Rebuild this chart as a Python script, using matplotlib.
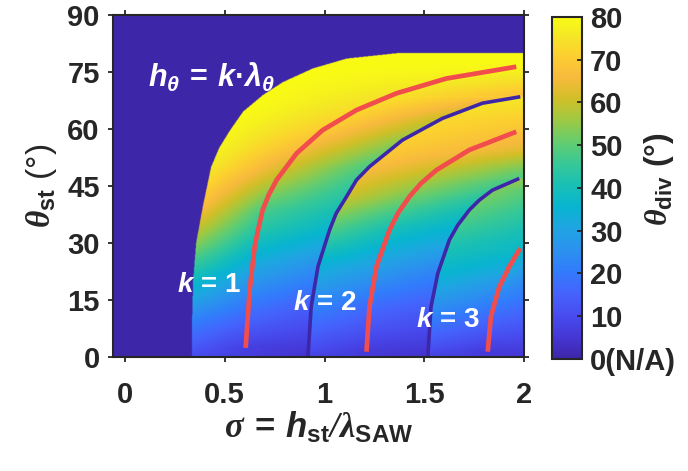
import numpy as np
import matplotlib
matplotlib.use('Agg')
import matplotlib.pyplot as plt
from matplotlib.colors import LinearSegmentedColormap, Normalize
import matplotlib.cm as cm

# left edge of the coloured region: sigma for each theta_st, and theta_div on it
bound_theta = [0, 10, 20, 30, 40, 50, 55, 59.7, 64.6, 69, 72.4, 76, 78.6, 80]
bound_sigma = [0.335, 0.335, 0.34, 0.355, 0.39, 0.43, 0.47, 0.525, 0.59, 0.69, 0.79, 0.94, 1.11, 1.36]
bound_div = [10, 22, 38, 54, 67, 76, 78, 79, 80, 80, 80, 80, 80, 80]

# red curves h_theta = k * lambda_theta (k = 1, 2, 3)
red1_theta = [2.4, 17.6, 29, 33.4, 38.7, 42.6, 46.6, 53.6, 59.7, 65, 69.4, 73.3, 76.4]
red1_sigma = [0.605, 0.625, 0.65, 0.667, 0.69, 0.72, 0.76, 0.86, 0.99, 1.16, 1.36, 1.61, 1.96]
red1_div = [7, 24, 38, 43, 48, 53, 58, 65, 70, 73, 75, 77, 79]

red2_theta = [1.4, 13.2, 23.8, 33.4, 37.8, 42.2, 45.7, 49.2, 54.5, 59.3]
red2_sigma = [1.21, 1.225, 1.26, 1.325, 1.367, 1.425, 1.483, 1.56, 1.725, 1.96]
red2_div = [6, 17, 29, 40, 46, 52, 56, 60, 66, 68]

red3_theta = [1.4, 10.6, 18.5, 23.8, 28.6]
red3_sigma = [1.817, 1.833, 1.875, 1.925, 1.98]
red3_div = [6, 17, 26, 33, 38]

# dark (N/A) seams, theta_div just left and just right of them
dark1_theta = [0, 13.2, 23.8, 33.4, 37.8, 42.2, 46.6, 50.1, 57.1, 62.8, 66.8, 68.5]
dark1_sigma = [0.917, 0.933, 0.967, 1.025, 1.058, 1.11, 1.16, 1.225, 1.39, 1.59, 1.79, 1.98]
dark1_left = [4, 14, 25, 36, 40, 43, 46, 48, 55, 60, 65, 67]
dark1_right = [8, 22, 34, 48, 54, 60, 64, 67, 71, 73, 75, 76]

dark2_theta = [0, 13.2, 22, 30.8, 34.7, 38.7, 41.3, 43.9, 47]
dark2_sigma = [1.517, 1.533, 1.567, 1.625, 1.667, 1.725, 1.775, 1.84, 1.975]
dark2_left = [4, 14, 22, 32, 36, 40, 43, 46, 48]
dark2_right = [8, 25, 36, 43, 47, 50, 52, 53, 55]

# theta_div along the right edge sigma = 2
edge_theta = [0, 10, 20, 28.6, 35, 44, 46.8, 47.2, 50, 54.5, 59.3, 64, 68.3, 68.7, 72, 76.4, 80]
edge_div = [5, 14, 24, 37, 42, 50, 55, 48, 53, 63, 68, 72, 76, 67, 73, 79, 80]

cbar_ticks = [0, 10, 20, 30, 40, 50, 60, 70, 80]
cbar_labels = ['0(N/A)', '10', '20', '30', '40', '50', '60', '70', '80']

# parula (matlab) colormap
parula_pts = [
    (0.2422, 0.1504, 0.6603), (0.2706, 0.2147, 0.8364), (0.2813, 0.3006, 0.9414),
    (0.2699, 0.3892, 0.9906), (0.1963, 0.4847, 0.9892), (0.1687, 0.5703, 0.9359),
    (0.1248, 0.6459, 0.8883), (0.0297, 0.7082, 0.8163), (0.0964, 0.7500, 0.7120),
    (0.2161, 0.7843, 0.5923), (0.3909, 0.8029, 0.4354), (0.6174, 0.7876, 0.2612),
    (0.8203, 0.7498, 0.1535), (0.9728, 0.7298, 0.2394), (0.9892, 0.8136, 0.1885),
    (0.9597, 0.9135, 0.1423), (0.9769, 0.9839, 0.0805)]
parula_pos = [0, 4, 8, 12, 16, 20, 24, 28, 32, 36, 40, 44, 48, 52, 56, 60, 63]
parula = LinearSegmentedColormap.from_list('parula', [(p / 63, c) for p, c in zip(parula_pos, parula_pts)])
bg = parula_pts[0]
red = (0.95, 0.30, 0.30)

plt.rcParams['font.family'] = 'Liberation Sans'
plt.rcParams['font.weight'] = 'bold'
plt.rcParams['mathtext.fontset'] = 'custom'
plt.rcParams['mathtext.it'] = 'Liberation Sans:bold:italic'
plt.rcParams['mathtext.bf'] = 'Liberation Sans:bold'
plt.rcParams['mathtext.rm'] = 'Liberation Serif:italic'
plt.rcParams['mathtext.sf'] = 'Liberation Sans:bold'

curves = [
    (red1_theta, red1_sigma, red1_div, red1_div, 0.0),
    (dark1_theta, dark1_sigma, dark1_left, dark1_right, 0.008),
    (red2_theta, red2_sigma, red2_div, red2_div, 0.0),
    (dark2_theta, dark2_sigma, dark2_left, dark2_right, 0.008),
    (red3_theta, red3_sigma, red3_div, red3_div, 0.0),
]

# build the theta_div image row by row from the values
sig = np.linspace(-0.06, 2.0, 824)
th = np.linspace(0, 90, 684)
field = np.full((len(th), len(sig)), np.nan)
for i, t in enumerate(th):
    if t > 80:
        continue
    s0 = np.interp(t, bound_theta, bound_sigma)
    xs = [s0]
    vs = [np.interp(t, bound_theta, bound_div)]
    for ct, cs, cl, cr, eps in curves:
        if t > ct[-1]:
            continue
        s = np.interp(t, ct, cs)
        if s > 2.0:
            continue
        if eps > 0:
            xs += [s - eps, s + eps]
            vs += [np.interp(t, ct, cl), np.interp(t, ct, cr)]
        else:
            xs.append(s)
            vs.append(np.interp(t, ct, cl))
    xs.append(2.0)
    vs.append(np.interp(t, edge_theta, edge_div))
    order = np.argsort(xs)
    row = np.interp(sig, np.array(xs)[order], np.array(vs)[order])
    row[sig < s0] = np.nan
    field[i] = row

fig = plt.figure(figsize=(6.88, 4.71), dpi=100)
ax = fig.add_axes([0.164, 0.242, 0.598, 0.726])
cax = fig.add_axes([0.802, 0.238, 0.0436, 0.726])

cmap = parula.copy()
cmap.set_bad(bg)
norm = Normalize(0, 80)
ax.set_facecolor(bg)
ax.imshow(field, cmap=cmap, norm=norm, origin='lower', aspect='auto',
          extent=[sig[0], sig[-1], th[0], th[-1]], interpolation='bilinear')

ax.plot(dark1_sigma, dark1_theta, color=bg, lw=2.6, solid_capstyle='butt', solid_joinstyle='round')
ax.plot(dark2_sigma, dark2_theta, color=bg, lw=2.6, solid_capstyle='butt', solid_joinstyle='round')
for s, t in [(red1_sigma, red1_theta), (red2_sigma, red2_theta), (red3_sigma, red3_theta)]:
    ax.plot(s, t, color=red, lw=3.4, solid_capstyle='butt', solid_joinstyle='round')

ax.set_xlim(-0.06, 2.0)
ax.set_ylim(0, 90)
ax.set_xticks([0, 0.5, 1, 1.5, 2])
ax.set_xticklabels(['0', '0.5', '1', '1.5', '2'])
ax.set_yticks(range(0, 91, 15))
ax.tick_params(direction='out', length=3.5, width=1.3, labelsize=21, top=True, right=True,
               color='#262626', labelcolor='#262626')
ax.tick_params(axis='x', pad=14)
ax.tick_params(axis='y', pad=6)
for sp in ax.spines.values():
    sp.set_linewidth(1.5)
    sp.set_color('#262626')

ax.set_xlabel(r'$\mathrm{\sigma}\,\mathbf{=}\,h_{\mathbf{st}}\mathrm{/}\mathrm{\lambda}_{\mathbf{SAW}}$',
              fontsize=25, color='#262626', labelpad=0)
ax.set_ylabel(r'$\mathrm{\theta}_{\mathbf{st}}$ (°)', fontsize=24, color='#262626', labelpad=6)

ax.text(0.115, 73.5, r'$h_{\theta}\,\mathbf{=}\,k\mathbf{·}\lambda_{\theta}$', color='white',
        fontsize=22, va='center', ha='left')
ax.text(0.26, 19, r'$k$ = 1', color='white', fontsize=20, va='center', ha='left')
ax.text(0.84, 14.2, r'$k$ = 2', color='white', fontsize=20, va='center', ha='left')
ax.text(1.46, 9.7, r'$k$ = 3', color='white', fontsize=20, va='center', ha='left')

sm = cm.ScalarMappable(norm=norm, cmap=parula)
cb = fig.colorbar(sm, cax=cax, ticks=cbar_ticks)
cb.ax.set_yticklabels(cbar_labels)
cb.ax.tick_params(direction='in', length=3.5, width=1.3, labelsize=21, pad=6,
                  color='#262626', labelcolor='#262626')
cb.outline.set_linewidth(1.5)
cb.outline.set_edgecolor('#262626')
fig.text(0.958, 0.62, r'$\mathrm{\theta}_{\mathbf{div}}$ (°)', rotation=90, fontsize=23,
         color='#262626', ha='center', va='center')

fig.savefig('out.png', dpi=100)
